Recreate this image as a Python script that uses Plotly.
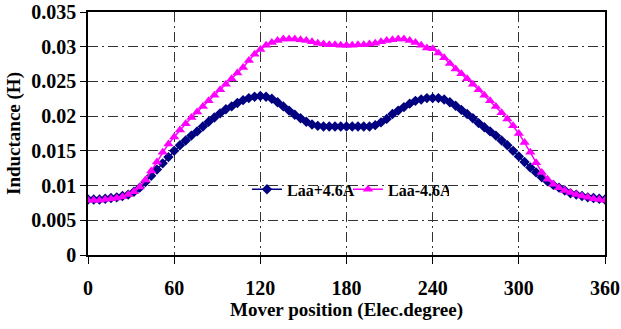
import plotly.graph_objects as go

# Mover position (electrical degrees), step 4
angles = list(range(0, 361, 4))

laa_plus = [
    0.0080, 0.0080, 0.0080, 0.0081, 0.0082, 0.0083, 0.0085, 0.0087, 0.0091, 0.0097,
    0.0105, 0.0114, 0.0123, 0.0132, 0.0141, 0.0150, 0.0158, 0.0165, 0.0172, 0.0178,
    0.0185, 0.0192, 0.0198, 0.0204, 0.0210, 0.0214, 0.0219, 0.0223, 0.0226, 0.0228,
    0.0229, 0.0228, 0.0225, 0.0220, 0.0214, 0.0208, 0.0202, 0.0197, 0.0192, 0.0188,
    0.0186, 0.0185, 0.0185, 0.0185, 0.0185, 0.0185, 0.0185, 0.0185, 0.0185, 0.0185,
    0.0187, 0.0191, 0.0196, 0.0203, 0.0208, 0.0213, 0.0218, 0.0222, 0.0224, 0.0226,
    0.0226, 0.0226, 0.0224, 0.0220, 0.0215, 0.0209, 0.0203, 0.0197, 0.0190, 0.0184,
    0.0178, 0.0172, 0.0165, 0.0158, 0.0150, 0.0142, 0.0134, 0.0126, 0.0119, 0.0112,
    0.0106, 0.0101, 0.0097, 0.0093, 0.0089, 0.0087, 0.0085, 0.0083, 0.0082, 0.0081,
    0.0080,
]

laa_minus = [
    0.0079, 0.0079, 0.0079, 0.0080, 0.0081, 0.0082, 0.0084, 0.0087, 0.0091, 0.0098,
    0.0108, 0.0121, 0.0134, 0.0148, 0.0160, 0.0170, 0.0180, 0.0189, 0.0198, 0.0206,
    0.0214, 0.0222, 0.0230, 0.0238, 0.0246, 0.0254, 0.0262, 0.0270, 0.0280, 0.0289,
    0.0296, 0.0302, 0.0306, 0.0309, 0.0311, 0.0311, 0.0311, 0.0310, 0.0309, 0.0307,
    0.0305, 0.0304, 0.0303, 0.0303, 0.0302, 0.0302, 0.0302, 0.0303, 0.0303, 0.0304,
    0.0305, 0.0307, 0.0309, 0.0310, 0.0311, 0.0311, 0.0309, 0.0306, 0.0302, 0.0298,
    0.0297, 0.0291, 0.0284, 0.0276, 0.0268, 0.0261, 0.0254, 0.0246, 0.0238, 0.0230,
    0.0222, 0.0214, 0.0205, 0.0196, 0.0186, 0.0175, 0.0162, 0.0148, 0.0133, 0.0119,
    0.0109, 0.0102, 0.0097, 0.0093, 0.0090, 0.0087, 0.0085, 0.0083, 0.0081, 0.0080,
    0.0079,
]

x_ticks = [0, 60, 120, 180, 240, 300, 360]
y_ticks = [0, 0.005, 0.01, 0.015, 0.02, 0.025, 0.03, 0.035]
y_tick_labels = ["0", "0.005", "0.01", "0.015", "0.02", "0.025", "0.03", "0.035"]

FONT = "Liberation Serif"
grid_dash = "10px,4px,2px,4px"

fig = go.Figure()
fig.add_trace(go.Scatter(
    x=angles, y=laa_plus, mode="lines+markers", name="Laa+4.6A",
    line=dict(color="#000080", width=1.5),
    marker=dict(symbol="diamond", size=8, color="#000080"),
))
fig.add_trace(go.Scatter(
    x=angles, y=laa_minus, mode="lines+markers", name="Laa-4.6A",
    line=dict(color="#FF00FF", width=1.5),
    marker=dict(symbol="triangle-up", size=9, color="#FF00FF"),
))

# white legend box (as in the original spreadsheet chart)
fig.add_shape(type="rect", xref="paper", yref="paper",
              x0=0.329, x1=0.692, y0=0.077, y1=0.435,
              fillcolor="white", line=dict(width=0), layer="between")

fig.update_layout(
    width=621, height=329,
    margin=dict(l=88, r=16, t=12, b=74),
    paper_bgcolor="white", plot_bgcolor="white",
    font=dict(family=FONT, color="black"),
    showlegend=True,
    legend=dict(
        orientation="h", x=0.3075, xanchor="left", y=0.27, yanchor="middle",
        bgcolor="rgba(0,0,0,0)", font=dict(family=FONT, size=16, weight="bold"),
        itemwidth=30, tracegroupgap=0,
        entrywidth=56, entrywidthmode="pixels",
    ),
    xaxis=dict(
        range=[0, 360], tickvals=x_ticks, automargin=False,
        ticklabeloverflow="allow",
        showgrid=True, gridcolor="#333333", gridwidth=1, griddash=grid_dash,
        showline=True, linecolor="black", linewidth=1.5, mirror=True,
        ticks="outside", ticklen=7, tickcolor="black", tickwidth=1,
        tickfont=dict(family=FONT, size=20, weight="bold"),
        ticklabelstandoff=7,
        title=dict(text="Mover position (Elec.degree)",
                   font=dict(family=FONT, size=19, weight="bold"), standoff=0),
        zeroline=False,
    ),
    yaxis=dict(
        range=[0, 0.035], tickvals=y_ticks, ticktext=y_tick_labels, automargin=False,
        ticklabeloverflow="allow",
        showgrid=True, gridcolor="#333333", gridwidth=1, griddash=grid_dash,
        showline=True, linecolor="black", linewidth=1.5, mirror=True,
        ticks="outside", ticklen=6, tickcolor="black", tickwidth=1,
        tickfont=dict(family=FONT, size=20, weight="bold"),
        title=dict(text="Inductance (H)",
                   font=dict(family=FONT, size=19, weight="bold"), standoff=6),
        zeroline=False,
    ),
)

fig.write_html("out.html")
